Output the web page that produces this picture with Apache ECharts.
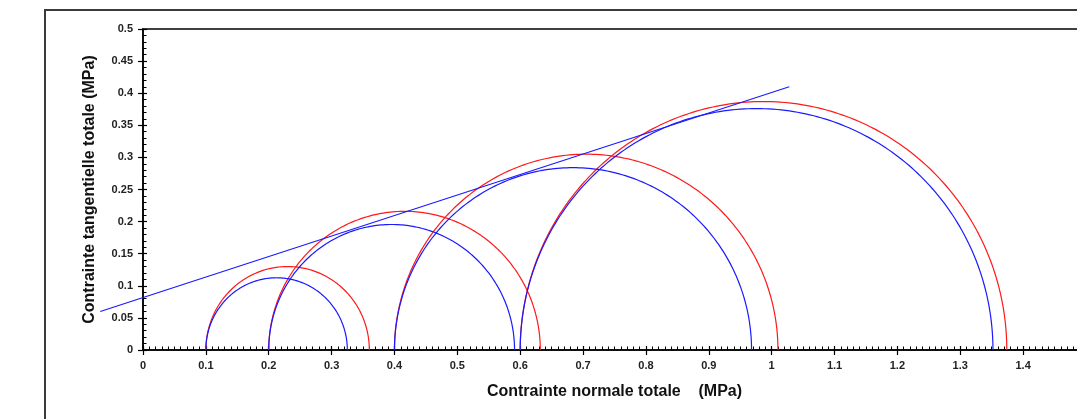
<!DOCTYPE html>
<html>
<head>
<meta charset="utf-8">
<script src="https://cdn.jsdelivr.net/npm/echarts@6/dist/echarts.min.js"></script>
<style>html,body{margin:0;padding:0;background:#fff}#c{width:1077px;height:419px}</style>
</head>
<body>
<div id="c"></div>
<script>
// Mohr circles: [sigma3, sigma1] (MPa)
const blueCircles = [[0.10, 0.325], [0.20, 0.591], [0.40, 0.968], [0.60, 1.352]];
const redCircles  = [[0.10, 0.360], [0.20, 0.632], [0.40, 1.010], [0.60, 1.374]];
// Failure envelope endpoints [sigma, tau]
const envelope = [[-0.068, 0.060, 1.028, 0.410]];
const xTicks = { min: 0, max: 1.5, interval: 0.1 };
const yTicks = { min: 0, max: 0.5, interval: 0.05 };

const chart = echarts.init(document.getElementById('c'), null, { renderer: 'canvas' });
const FONT = 'Liberation Sans, Arial, sans-serif';

function circleSeries(data, color) {
  return {
    type: 'custom',
    xAxisIndex: 0, yAxisIndex: 0,
    clip: false,
    data: data,
    renderItem: function (params, api) {
      const s3 = api.value(0), s1 = api.value(1);
      const c = (s1 + s3) / 2, r = (s1 - s3) / 2;
      const pts = [];
      const N = 180;
      for (let i = 0; i <= N; i++) {
        const t = Math.PI * i / N;
        pts.push(api.coord([c - r * Math.cos(t), r * Math.sin(t)]));
      }
      return {
        type: 'polyline',
        shape: { points: pts },
        style: { stroke: color, lineWidth: 1.2, fill: null }
      };
    }
  };
}

const baseX = { type: 'value', min: xTicks.min, max: xTicks.max, interval: xTicks.interval, position: 'bottom' };
const baseY = { type: 'value', min: yTicks.min, max: yTicks.max, interval: yTicks.interval, position: 'left' };
const labelFmt = function (v) { return String(+v.toFixed(2)); };

chart.setOption({
  animation: false,
  backgroundColor: '#fff',
  graphic: [{
    type: 'rect',
    shape: { x: 45, y: 10, width: 1200, height: 600 },
    style: { fill: null, stroke: '#3a3a3a', lineWidth: 2 },
    silent: true, z: -1
  }],
  grid: { left: 143, top: 29, width: 943, height: 321, outerBoundsMode: 'none', containLabel: false,
    show: true, borderColor: '#000', borderWidth: 1.5, backgroundColor: 'transparent' },
  xAxis: [
    Object.assign({}, baseX, {
      name: 'Contrainte normale totale    (MPa)',
      nameLocation: 'middle', nameGap: 34,
      nameTextStyle: { fontFamily: FONT, fontWeight: 'bold', fontSize: 16, color: '#111' },
      axisLine: { show: true, lineStyle: { color: '#000', width: 1.5 } },
      axisTick: { show: true, inside: false, length: 5, lineStyle: { color: '#000', width: 1.2 } },
      minorTick: { show: false },
      axisLabel: { show: true, margin: 10, fontFamily: FONT, fontWeight: 'bold', fontSize: 11, color: '#222', formatter: labelFmt },
      splitLine: { show: false }
    }),
    Object.assign({}, baseX, {
      axisLine: { show: false },
      axisTick: { show: true, inside: true, length: 4, lineStyle: { color: '#000', width: 1.2 } },
      minorTick: { show: true, splitNumber: 10, length: 3.5, lineStyle: { color: '#000', width: 1 } },
      axisLabel: { show: false },
      splitLine: { show: false }
    })
  ],
  yAxis: [
    Object.assign({}, baseY, {
      name: 'Contrainte tangentielle totale (MPa)',
      nameLocation: 'middle', nameGap: 45, nameRotate: 90,
      nameTextStyle: { fontFamily: FONT, fontWeight: 'bold', fontSize: 16, color: '#111' },
      axisLine: { show: true, lineStyle: { color: '#000', width: 1.5 } },
      axisTick: { show: true, inside: false, length: 5, lineStyle: { color: '#000', width: 1.2 } },
      minorTick: { show: false },
      axisLabel: { show: true, margin: 10, fontFamily: FONT, fontWeight: 'bold', fontSize: 11, color: '#222', formatter: labelFmt },
      splitLine: { show: false }
    }),
    Object.assign({}, baseY, {
      axisLine: { show: false },
      axisTick: { show: true, inside: true, length: 4, lineStyle: { color: '#000', width: 1.2 } },
      minorTick: { show: true, splitNumber: 5, length: 3.5, lineStyle: { color: '#000', width: 1 } },
      axisLabel: { show: false },
      splitLine: { show: false }
    })
  ],
  series: [
    circleSeries(redCircles, '#ff1a1a'),
    circleSeries(blueCircles, '#1a1aff'),
    {
      type: 'custom', xAxisIndex: 0, yAxisIndex: 0,
      clip: false, data: envelope, z: 3,
      renderItem: function (params, api) {
        const p1 = api.coord([api.value(0), api.value(1)]);
        const p2 = api.coord([api.value(2), api.value(3)]);
        return {
          type: 'line',
          shape: { x1: p1[0], y1: p1[1], x2: p2[0], y2: p2[1] },
          style: { stroke: '#1a1aff', lineWidth: 1.2 }
        };
      }
    }
  ]
});
</script>
</body>
</html>
